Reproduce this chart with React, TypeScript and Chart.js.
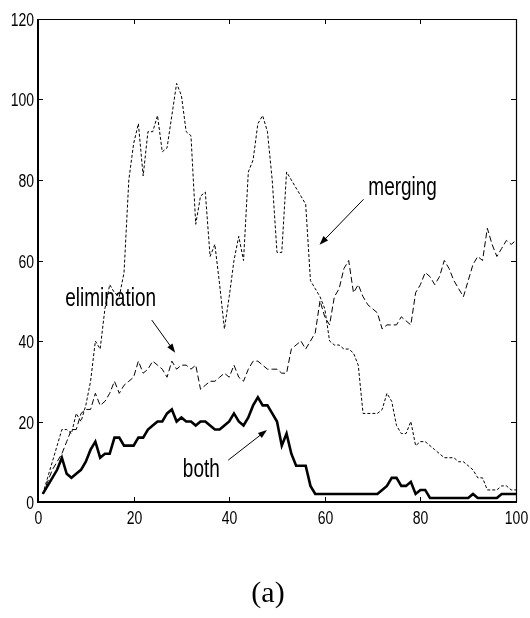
import React, { useEffect, useRef } from "react";
import { Chart, registerables } from "chart.js";

Chart.register(...registerables);

// ---- data ----
const mergingValues = [
  2, 6, 10, 14, 18, 18, 17, 22, 20, 24,
  30, 40, 38, 48, 54, 52, 51, 57, 80, 89,
  94, 81, 92, 92, 96, 87, 88, 96, 104, 101,
  92, 91, 69, 76, 77, 61, 64, 54, 43, 51,
  60, 66, 60, 82, 85, 94, 96, 92, 80, 62,
  62, 82, 80, 78, 76, 74, 55, 53, 51, 48,
  40, 39, 39, 38, 38, 37, 34, 22, 22, 22,
  22, 23, 27, 25, 19, 17, 17, 20, 14, 15,
  15, 14, 13, 12, 11, 11, 11, 10, 10, 9,
  8, 6, 6, 3, 3, 3, 4, 4, 3, 3,
];

const eliminationValues = [
  2, 5, 8, 10, 12, 15, 18, 18, 22, 23,
  23, 27, 24, 25, 27, 30, 27, 29, 30, 31,
  35, 32, 33, 35, 34, 33, 31, 35, 33, 34,
  34, 33, 34, 28, 29, 30, 30, 31, 32, 31,
  34, 31, 30, 33, 35, 35, 34, 33, 33, 33,
  32, 32, 38, 39, 40, 38, 40, 42, 50, 46,
  44, 51, 53, 58, 60, 52, 54, 51, 49, 48,
  47, 43, 44, 44, 44, 46, 45, 44, 52, 54,
  57, 56, 54, 56, 60, 58, 55, 53, 51, 55,
  59, 61, 60, 68, 64, 61, 63, 65, 64, 65,
];

const bothValues = [
  2, 4, 6, 8, 11, 7, 6, 7, 8, 10,
  13, 15, 11, 12, 12, 16, 16, 14, 14, 14,
  16, 16, 18, 19, 20, 20, 22, 23, 20, 21,
  20, 20, 19, 20, 20, 19, 18, 18, 19, 20,
  22, 20, 19, 21, 24, 26, 24, 24, 22, 20,
  14, 17, 12, 9, 9, 9, 4, 2, 2, 2,
  2, 2, 2, 2, 2, 2, 2, 2, 2, 2,
  2, 3, 4, 6, 6, 4, 4, 5, 2, 3,
  3, 1, 1, 1, 1, 1, 1, 1, 1, 1,
  2, 1, 1, 1, 1, 1, 2, 2, 2, 2,
];

const xTickValues = [0, 20, 40, 60, 80, 100];
const yTickValues = [0, 20, 40, 60, 80, 100, 120];

const toPoints = (vals: number[]) => vals.map((v, i) => ({ x: i + 1, y: v }));

const STRETCH = 1.33;

function stretchedText(
  ctx: CanvasRenderingContext2D,
  text: string,
  x: number,
  y: number,
  font: string,
  align: CanvasTextAlign,
  baseline: CanvasTextBaseline
) {
  ctx.save();
  ctx.translate(x, y);
  ctx.scale(1, STRETCH);
  ctx.font = font;
  ctx.textAlign = align;
  ctx.textBaseline = baseline;
  ctx.fillStyle = "#000";
  ctx.fillText(text, 0, 0);
  ctx.restore();
}

function arrow(
  ctx: CanvasRenderingContext2D,
  x1: number,
  y1: number,
  x2: number,
  y2: number
) {
  const ang = Math.atan2(y2 - y1, x2 - x1);
  const head = 9;
  const half = 3.2;
  ctx.save();
  ctx.strokeStyle = "#000";
  ctx.fillStyle = "#000";
  ctx.lineWidth = 1;
  ctx.beginPath();
  ctx.moveTo(x1, y1);
  ctx.lineTo(x2 - Math.cos(ang) * head * 0.8, y2 - Math.sin(ang) * head * 0.8);
  ctx.stroke();
  ctx.beginPath();
  ctx.moveTo(x2, y2);
  ctx.lineTo(
    x2 - Math.cos(ang) * head + Math.sin(ang) * half,
    y2 - Math.sin(ang) * head - Math.cos(ang) * half
  );
  ctx.lineTo(
    x2 - Math.cos(ang) * head - Math.sin(ang) * half,
    y2 - Math.sin(ang) * head + Math.cos(ang) * half
  );
  ctx.closePath();
  ctx.fill();
  ctx.restore();
}

const decorPlugin = {
  id: "matlabDecor",
  afterDraw(chart: any) {
    const ctx: CanvasRenderingContext2D = chart.ctx;
    const xs = chart.scales.x;
    const ys = chart.scales.y;
    const { left, right, top, bottom } = chart.chartArea;
    const tickFont = "14px 'Liberation Sans', Arial, sans-serif";
    const annFont = "19px 'Liberation Sans', Arial, sans-serif";

    ctx.save();
    ctx.strokeStyle = "#000";
    // frame
    ctx.lineWidth = 1.2;
    ctx.beginPath();
    ctx.moveTo(left, top + 0.5);
    ctx.lineTo(right, top + 0.5);
    ctx.moveTo(right + 0.5, top);
    ctx.lineTo(right + 0.5, bottom);
    ctx.stroke();
    ctx.lineWidth = 2;
    ctx.beginPath();
    ctx.moveTo(left, top);
    ctx.lineTo(left, bottom);
    ctx.lineTo(right + 1, bottom);
    ctx.stroke();

    // ticks (inward) and labels
    ctx.lineWidth = 1;
    const tickLen = 5;
    xs.ticks.forEach((t: any) => {
      const px = Math.round(xs.getPixelForValue(t.value)) + 0.5;
      ctx.beginPath();
      ctx.moveTo(px, bottom);
      ctx.lineTo(px, bottom - tickLen);
      ctx.moveTo(px, top);
      ctx.lineTo(px, top + tickLen);
      ctx.stroke();
      stretchedText(ctx, String(t.value), px, bottom + 17, tickFont, "center", "middle");
    });
    ys.ticks.forEach((t: any) => {
      const py = Math.round(ys.getPixelForValue(t.value)) + 0.5;
      ctx.beginPath();
      ctx.moveTo(left, py);
      ctx.lineTo(left + tickLen, py);
      ctx.moveTo(right, py);
      ctx.lineTo(right - tickLen, py);
      ctx.stroke();
      stretchedText(ctx, String(t.value), left - 4, py + 1, tickFont, "right", "middle");
    });
    ctx.restore();

    const P = (x: number, y: number) => [xs.getPixelForValue(x), ys.getPixelForValue(y)];

    // annotations
    const labels: [string, number, number][] = [
      ["merging", 69.1, 76.3],
      ["elimination", 5.7, 48.7],
      ["both", 30.3, 6.1],
    ];
    labels.forEach(([txt, x, y]) => {
      const [px, py] = P(x, y);
      stretchedText(ctx, txt, px, py, annFont, "left", "alphabetic");
    });
    const arrows: [number, number, number, number][] = [
      [68.1, 75.2, 58.9, 63.9],
      [23.8, 45.2, 28.7, 37.1],
      [39.8, 10.4, 47.9, 17.9],
    ];
    arrows.forEach(([a, b, c, d]) => {
      const [x1, y1] = P(a, b);
      const [x2, y2] = P(c, d);
      arrow(ctx, x1, y1, x2, y2);
    });

    // caption
    ctx.save();
    ctx.font = "30px 'Liberation Serif', 'Times New Roman', serif";
    ctx.textAlign = "center";
    ctx.textBaseline = "alphabetic";
    ctx.fillStyle = "#000";
    ctx.fillText("(a)", 268, 602);
    ctx.restore();
  },
};

export default function App() {
  const ref = useRef<HTMLCanvasElement | null>(null);

  useEffect(() => {
    if (!ref.current) return;
    const chart = new Chart(ref.current, {
      type: "line",
      data: {
        datasets: [
          {
            label: "both",
            data: toPoints(bothValues),
            borderColor: "#000",
            borderWidth: 2.6,
            pointRadius: 0,
            tension: 0,
            fill: false,
          },
          {
            label: "elimination",
            data: toPoints(eliminationValues),
            borderColor: "#000",
            borderWidth: 1,
            borderDash: [6, 3],
            pointRadius: 0,
            tension: 0,
            fill: false,
          },
          {
            label: "merging",
            data: toPoints(mergingValues),
            borderColor: "#000",
            borderWidth: 1,
            borderDash: [3, 2],
            pointRadius: 0,
            tension: 0,
            fill: false,
          },
        ],
      },
      options: {
        responsive: false,
        animation: false,
        devicePixelRatio: 1,
        layout: { padding: { left: 38, right: 14, top: 19, bottom: 116 } },
        plugins: {
          legend: { display: false },
          tooltip: { enabled: false },
        },
        scales: {
          x: {
            type: "linear",
            min: 0,
            max: 100,
            afterBuildTicks: (s: any) => {
              s.ticks = xTickValues.map((v) => ({ value: v }));
            },
            ticks: { display: false },
            grid: { display: false, drawTicks: false },
            border: { display: false },
          },
          y: {
            type: "linear",
            min: 0,
            max: 120,
            afterBuildTicks: (s: any) => {
              s.ticks = yTickValues.map((v) => ({ value: v }));
            },
            ticks: { display: false },
            grid: { display: false, drawTicks: false },
            border: { display: false },
          },
        },
      },
      plugins: [decorPlugin],
    } as any);
    return () => chart.destroy();
  }, []);

  return (
    <div style={{ position: "absolute", left: 0, top: 0, width: 530, height: 618, background: "#fff" }}>
      <canvas ref={ref} width={530} height={618} style={{ width: 530, height: 618, display: "block" }} />
    </div>
  );
}
